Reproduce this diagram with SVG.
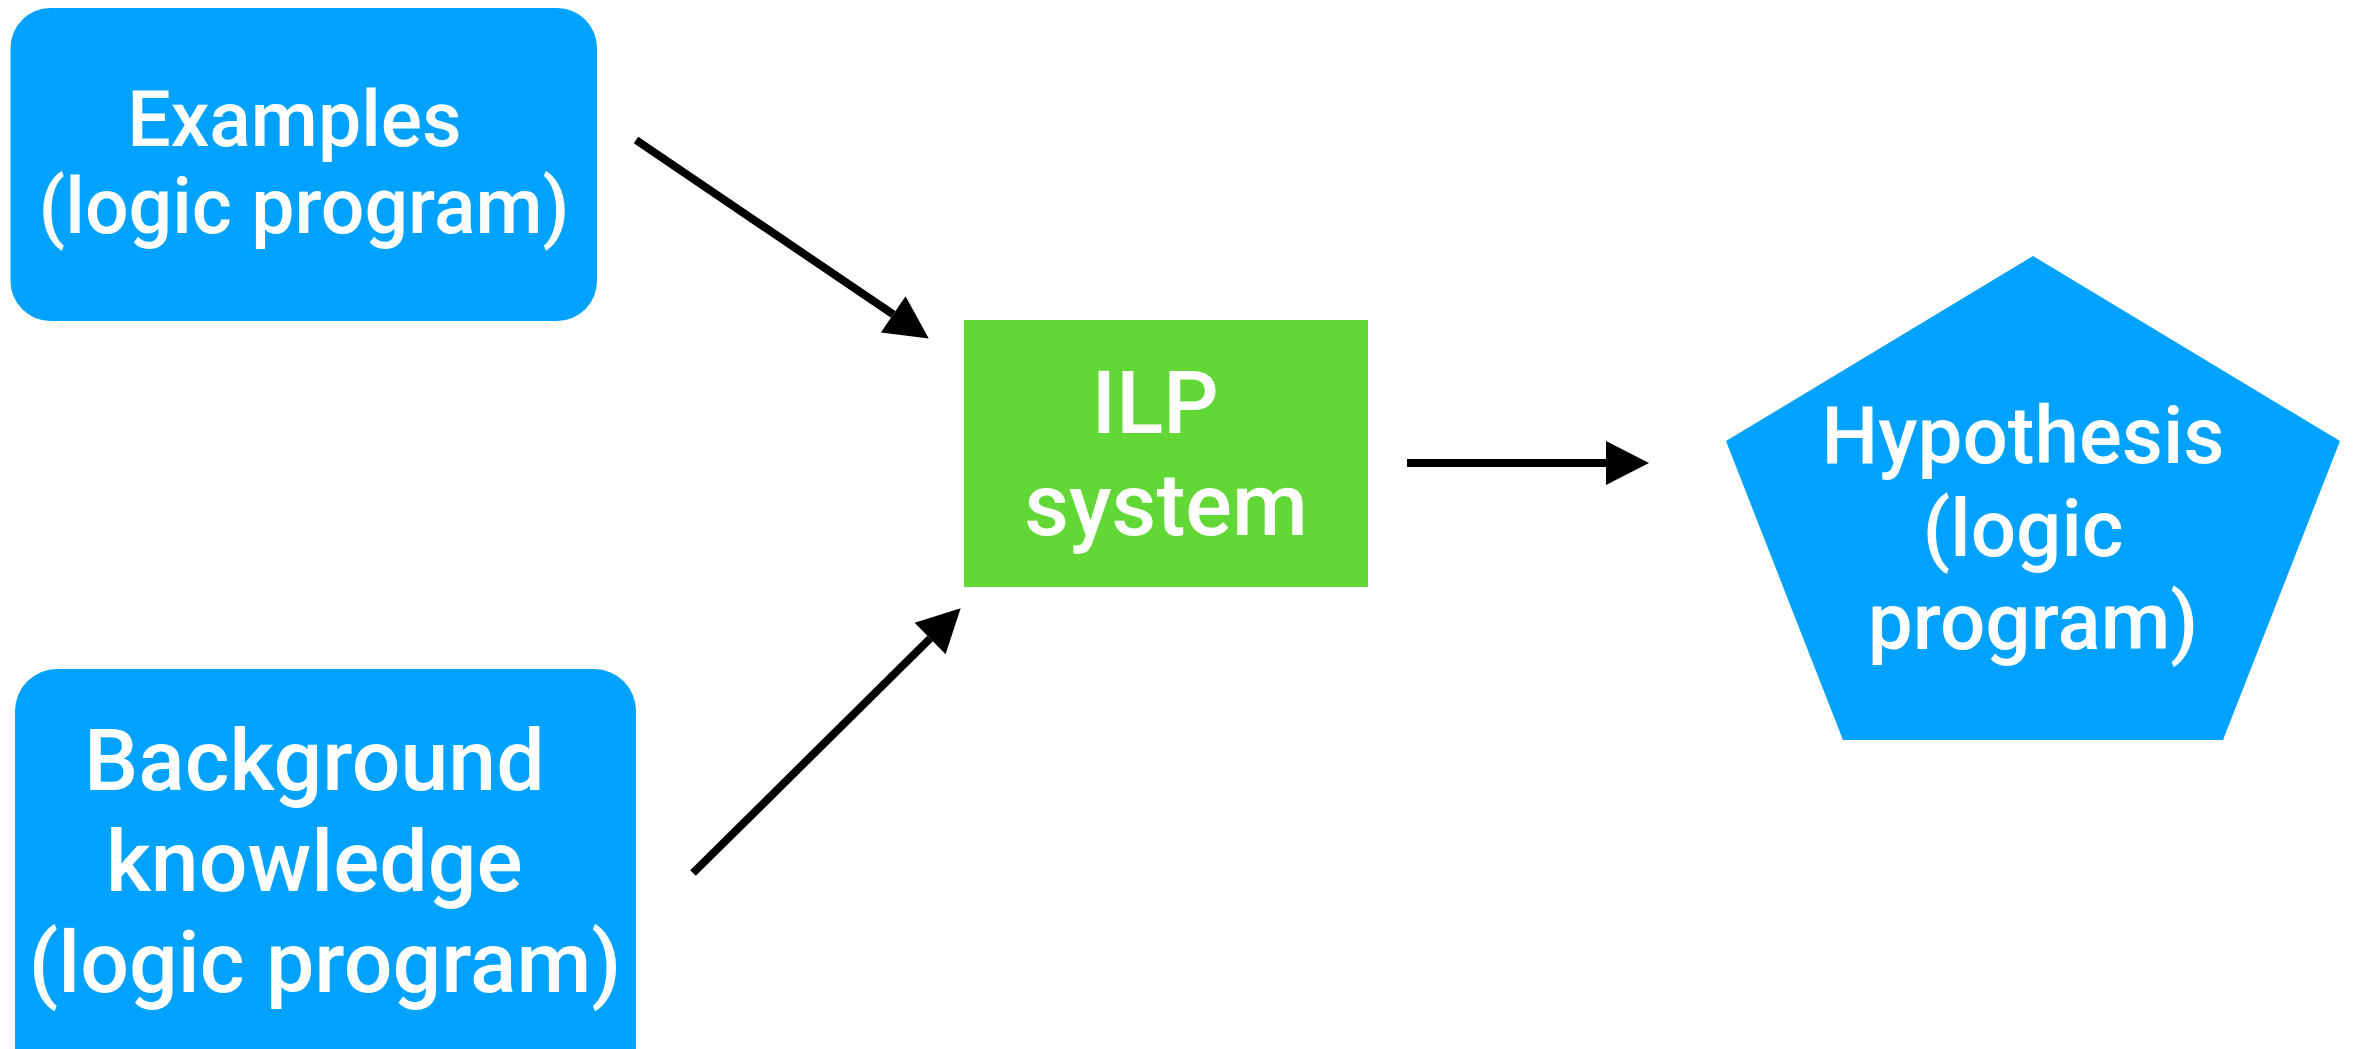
<svg xmlns="http://www.w3.org/2000/svg" width="2359" height="1049" viewBox="0 0 2359 1049">
  <style>
    .blue { fill: #00A2FF; }
    .green { fill: #61D836; }
    .label { font-family: Roboto, "Liberation Sans", sans-serif; font-weight: 500; fill: #FFFFFF; text-anchor: middle; }
    .edge { stroke: #000000; stroke-width: 8; fill: none; marker-end: url(#head); }
  </style>
  <defs>
    <marker id="head" markerUnits="userSpaceOnUse" markerWidth="44" markerHeight="44" refX="0" refY="22" orient="auto" overflow="visible">
      <path d="M0,0 L43,22 L0,44 Z" fill="#000000"/>
    </marker>
  </defs>
  <rect width="2359" height="1049" fill="#FFFFFF"/>

  <g id="examples">
    <rect class="blue" x="10.5" y="8" width="586.5" height="313" rx="40" ry="40"/>
    <text class="label" font-size="77">
      <tspan x="304" y="146">Examples</tspan>
      <tspan x="304" y="233">(logic program)</tspan>
    </text>
  </g>

  <g id="background">
    <rect class="blue" x="15" y="669" width="621" height="440" rx="42" ry="42"/>
    <text class="label" font-size="86">
      <tspan x="325" y="790">Background</tspan>
      <tspan x="325" y="891">knowledge</tspan>
      <tspan x="325" y="992">(logic program)</tspan>
    </text>
  </g>

  <g id="ilp">
    <rect class="green" x="964" y="320" width="404" height="267"/>
    <text class="label" font-size="87">
      <tspan x="1166" y="433">ILP</tspan>
      <tspan x="1166" y="535">system</tspan>
    </text>
  </g>

  <g id="hypothesis">
    <polygon class="blue" points="2033,256 2340,441 2223,740 1843,740 1726,441"/>
    <text class="label" font-size="80">
      <tspan x="2033" y="463">Hypothesis</tspan>
      <tspan x="2033" y="556">(logic</tspan>
      <tspan x="2033" y="649">program)</tspan>
    </text>
  </g>

  <g id="connectors">
    <line class="edge" x1="636" y1="140" x2="893.2" y2="314.4"/>
    <line class="edge" x1="693" y1="873" x2="930.1" y2="638.5"/>
    <line class="edge" x1="1407" y1="463" x2="1606" y2="463"/>
  </g>
</svg>
